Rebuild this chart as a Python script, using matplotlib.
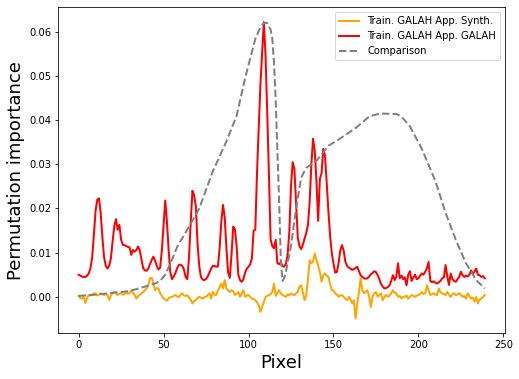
import matplotlib
matplotlib.use("Agg")
import matplotlib.pyplot as plt
import numpy as np

# permutation importance per pixel (units of 1e-3)
synth = [
    0.2, -0.3, -0.4, 0.0, -1.4, -0.2, 0.4, 0.3, 0.5, 0.7,
    0.8, 0.3, 0.5, 0.8, 0.6, 0.4, 0.6, 0.4, -0.7, 0.3,
    0.9, 1.1, 0.8, 0.4, 0.7, 0.8, 0.5, 0.6, 1.1, 0.7,
    0.8, 1.4, 0.9, 0.4, -0.4, 0.2, 0.4, 0.8, 1.1, 1.5,
    1.9, 2.6, 4.2, 4.3, 3.0, 1.5, 2.0, 1.9, 0.8, 0.2,
    -0.4, -0.6, -0.9, -0.3, -0.1, 0.0, 0.2, 0.4, 0.1, -0.1,
    0.5, 0.8, 0.3, 0.2, 0.4, -0.2, -0.6, -1.5, -1.0, -0.7,
    -0.3, 0.0, -0.2, -0.4, -0.1, 0.0, 0.4, 0.8, -0.4, 1.1,
    0.5, 0.4, 1.5, 2.2, 3.0, 1.9, 3.8, 1.9, 1.5, 1.1,
    1.5, 1.2, 0.4, 0.7, 1.1, 0.0, 0.8, 1.5, 0.0, 0.3,
    0.4, 0.0, -0.4, -0.5, -0.75, -1.3, -1.9, -3.4, -2.3, -1.2,
    0.0, 0.2, 0.4, 0.6, 1.1, 3.0, 0.2, 0.8, 1.5, 0.8,
    0.4, 0.2, 0.0, 0.5, 0.3, 0.75, 0.5, 0.4, 0.8, 1.1,
    2.3, 2.6, 1.0, -0.75, 0.4, 4.0, 8.3, 7.6, 8.0, 9.8,
    8.3, 7.0, 5.7, 3.4, 4.9, 5.3, 4.8, 4.5, 3.0, 1.5,
    1.4, 0.8, 0.5, 0.0, 0.3, 0.4, 0.0, -0.4, -0.75, 0.0,
    -0.6, -1.5, -0.75, -4.9, -1.5, 1.0, 4.2, 1.5, 0.8, 1.2,
    1.5, 0.0, -2.3, 0.0, 0.8, 1.1, 0.0, 0.5, 0.8, -0.75,
    0.0, 0.4, 0.0, 0.3, 0.8, 1.5, 0.9, 0.8, 0.0, 0.2,
    -0.4, 0.0, 0.0, 0.3, -0.4, 0.0, 0.4, 0.2, 0.0, 0.3,
    0.4, 0.6, 1.1, 0.6, 0.8, 2.6, 1.5, 0.4, 0.6, 0.8,
    0.5, 0.4, 1.9, 1.0, 0.8, 0.6, 0.4, 1.1, 0.5, 0.0,
    0.6, 0.8, 0.4, 0.5, 0.8, 0.5, 0.0, 0.2, -0.4, 0.8,
    0.2, -0.4, -0.2, -1.1, 0.0, -1.5, -0.6, -0.4, 0.0, 0.4,
]

galah = [
    5.0, 4.8, 4.6, 4.5, 4.5, 4.8, 5.3, 6.5, 9.0, 14.0,
    19.5, 22.0, 22.3, 19.0, 13.5, 9.0, 7.0, 6.4, 7.0, 8.7,
    12.5, 16.0, 17.6, 15.2, 16.3, 13.0, 11.8, 11.7, 11.5, 11.3,
    11.2, 9.5, 10.6, 10.2, 10.6, 11.4, 10.5, 8.5, 6.5, 6.0,
    5.9, 6.4, 7.4, 8.3, 9.1, 8.2, 7.0, 6.2, 6.6, 10.5,
    16.0, 21.8, 17.0, 10.5, 5.5, 4.0, 4.6, 5.4, 6.5, 7.2,
    7.3, 7.0, 6.2, 4.5, 4.0, 9.0, 17.0, 24.0, 23.0, 20.5,
    12.0, 7.0, 4.5, 3.9, 3.8, 4.0, 4.6, 5.5, 6.4, 7.0,
    7.0, 6.8, 6.9, 11.0, 17.0, 20.8, 18.0, 11.0, 5.5, 4.3,
    9.5, 15.9, 15.3, 11.5, 5.0, 3.8, 3.4, 4.0, 5.5, 6.4,
    6.8, 7.4, 8.7, 15.0, 15.2, 28.0, 38.0, 48.0, 55.0, 62.2,
    55.0, 42.0, 28.0, 13.0, 11.5, 11.0, 12.9, 7.6, 7.4, 7.8,
    7.0, 6.8, 7.5, 9.5, 14.5, 25.0, 30.5, 29.0, 21.0, 13.5,
    11.5, 10.8, 11.8, 13.2, 14.5, 16.3, 21.5, 30.0, 35.8, 33.0,
    26.0, 17.2, 26.7, 28.0, 33.5, 32.0, 26.0, 19.5, 14.0, 10.0,
    7.6, 5.5, 5.6, 7.6, 10.5, 11.7, 10.5, 8.0, 7.0, 6.6,
    6.4, 6.1, 6.3, 6.5, 6.8, 5.8, 4.9, 4.5, 4.2, 4.1,
    4.2, 4.6, 5.1, 5.4, 5.8, 5.6, 4.9, 4.0, 2.9, 2.3,
    1.9, 2.0, 2.2, 2.6, 3.6, 4.9, 3.8, 4.5, 7.6, 4.2,
    4.8, 4.0, 4.4, 2.6, 5.0, 5.8, 3.6, 4.4, 5.0, 4.0,
    4.2, 4.8, 5.3, 5.0, 5.7, 6.5, 7.9, 3.6, 3.3, 3.5,
    3.2, 3.0, 3.3, 3.6, 4.2, 4.4, 7.2, 4.6, 2.7, 5.3,
    4.0, 3.6, 3.4, 4.0, 4.5, 5.7, 4.9, 4.5, 4.8, 4.6,
    5.0, 6.0, 5.2, 5.7, 6.4, 5.0, 4.9, 4.5, 4.7, 4.2,
]

comp_x = [0, 10, 20, 30, 38, 45, 48, 51, 54, 58, 65, 71, 79, 87, 93, 98,
          104, 107, 109, 111, 113, 114, 115, 116, 117, 118, 119, 120, 121,
          122, 125, 128, 131, 134, 140, 147, 153, 163, 171, 177, 187, 190,
          195, 202, 210, 216, 222, 228, 234, 239]
comp_y = [0.2, 0.5, 0.9, 1.3, 2.2, 3.0, 3.6, 5.0, 7.5, 11.3, 15.9, 20.0,
          28.4, 35.2, 41.0, 49.5, 58.4, 61.0, 62.0, 62.0, 60.5, 58.5, 53.0,
          44.5, 33.0, 22.0, 8.5, 3.6, 4.2, 5.7, 11.5, 20.0, 27.0, 29.2,
          30.8, 34.2, 35.6, 38.2, 40.8, 41.5, 41.4, 40.8, 38.6, 33.5, 26.2,
          19.0, 12.9, 7.6, 3.8, 1.9]

pixels = np.arange(len(galah))

fig = plt.figure(figsize=(519 / 72, 379 / 72), dpi=72)
ax = fig.add_axes([0.1123, 0.1206, 0.8607, 0.8602])

ax.plot(pixels, np.array(synth) * 1e-3, color='orange', lw=2,
        label='Train. GALAH App. Synth.')
ax.plot(pixels, np.array(galah) * 1e-3, color='red', lw=2,
        label='Train. GALAH App. GALAH')
ax.plot(comp_x, np.array(comp_y) * 1e-3, color='gray', lw=2, ls='--',
        label='Comparison')

ax.set_xlabel('Pixel', fontsize=18)
ax.set_ylabel('Permutation importance', fontsize=18)
ax.tick_params(labelsize=10)
ax.legend(loc='upper right', fontsize=10)

fig.savefig('out.png', dpi=72)
